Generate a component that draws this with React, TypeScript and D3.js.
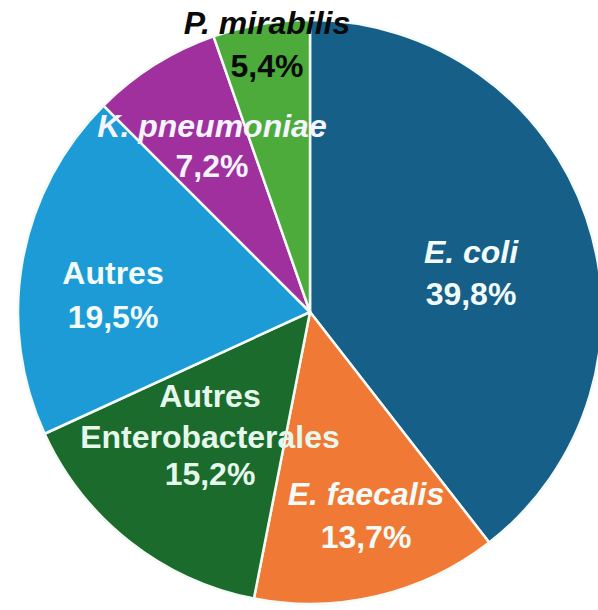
import React from "react";
import * as d3 from "d3";

const categories = ["E. coli", "E. faecalis", "Autres Enterobacterales", "Autres", "K. pneumoniae", "P. mirabilis"];
const values = [39.8, 13.7, 15.2, 19.5, 7.2, 5.4];
const valueLabels = ["39,8%", "13,7%", "15,2%", "19,5%", "7,2%", "5,4%"];
const colors = ["#155F88", "#F07A35", "#1A6B2C", "#1C9BD7", "#A1309F", "#4CAB3A"];

// label lines: name parts then the value label
const labelLines = [
  ["E. coli", valueLabels[0]],
  ["E. faecalis", valueLabels[1]],
  ["Autres", "Enterobacterales", valueLabels[2]],
  ["Autres", valueLabels[3]],
  ["K. pneumoniae", valueLabels[4]],
  ["P. mirabilis", valueLabels[5]],
];
const labelPos = [
  { x: 471, y: [263, 305], italicFirst: true, color: "#F2FBF8" },
  { x: 366, y: [505, 548], italicFirst: true, color: "#F2FBF8" },
  { x: 210, y: [407, 448, 485], italicFirst: false, color: "#E6F8EC" },
  { x: 113, y: [284, 328], italicFirst: false, color: "#F2FBF8" },
  { x: 212, y: [137, 177], italicFirst: true, color: "#F4F4FF" },
  { x: 267, y: [34, 77], italicFirst: true, color: "#0A0A0A" },
];

export default function App() {
  const W = 598, H = 610;
  const cx = 310, cy = 312, r = 292;
  const data = categories.map((c, i) => ({ name: c, value: values[i], i }));
  const pie = d3.pie<any>().value((d) => d.value).sort(null).startAngle(0).endAngle(2 * Math.PI);
  const arcs = pie(data);
  const arc = d3.arc<any>().innerRadius(0).outerRadius(r);

  return (
    <svg width={W} height={H} style={{ position: "absolute", left: 0, top: 0, background: "#fff" }}>
      <g transform={`translate(${cx},${cy})`}>
        {arcs.map((a, i) => (
          <path key={i} d={arc(a) as string} fill={colors[i]} stroke="#F4FBF6" strokeWidth={2.5} strokeLinejoin="round" />
        ))}
      </g>
      {labelLines.map((lines, i) => (
        <text
          key={i}
          textAnchor="middle"
          fontFamily="'Liberation Sans', Arial, sans-serif"
          fontWeight="bold"
          fontSize={32}
          fill={labelPos[i].color}
        >
          {lines.map((ln, j) => (
            <tspan
              key={j}
              x={labelPos[i].x}
              y={labelPos[i].y[j]}
              fontStyle={labelPos[i].italicFirst && j === 0 ? "italic" : "normal"}
            >
              {ln}
            </tspan>
          ))}
        </text>
      ))}
    </svg>
  );
}
